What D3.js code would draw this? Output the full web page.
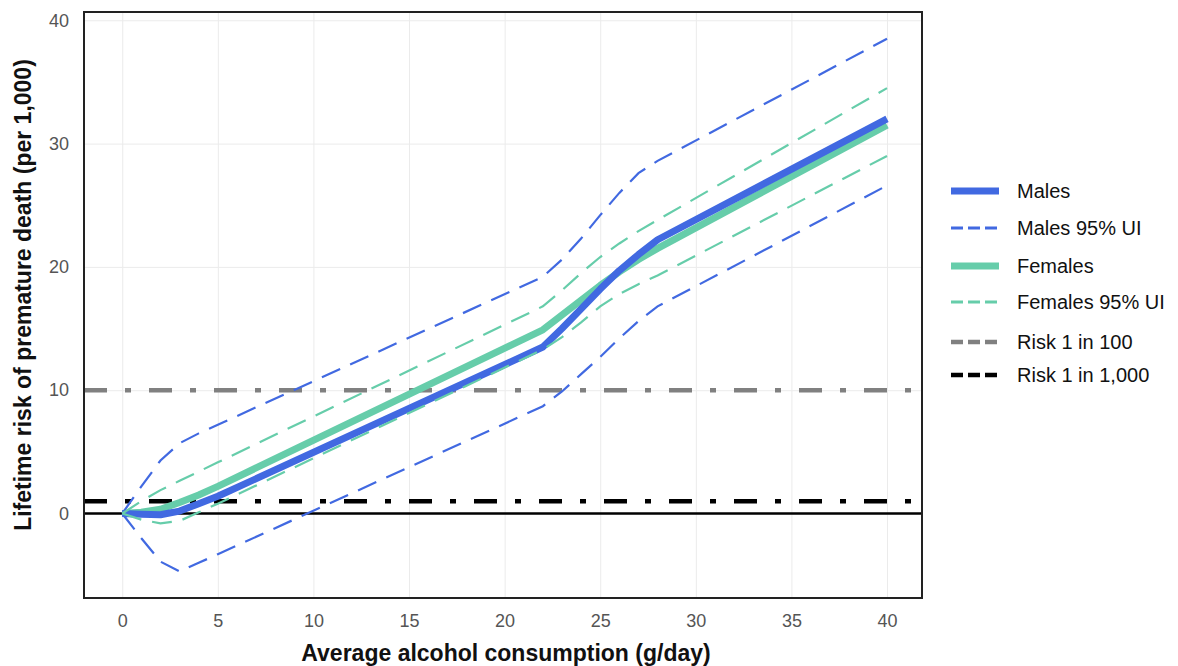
<!DOCTYPE html>
<html>
<head>
<meta charset="utf-8">
<script src="https://cdn.jsdelivr.net/npm/d3@7"></script>
<style>
  html, body { margin: 0; padding: 0; background: #fff; }
  svg { display: block; font-family: "Liberation Sans", Arial, sans-serif; }
</style>
</head>
<body>
<svg id="chart" width="1178" height="666"></svg>
<script>
// ---- Data ----
const consumption = [0, 1, 2, 3, 4, 5, 22, 23, 24, 25, 26, 27, 28, 40];
const malesRisk      = [0, -0.05, -0.1, 0.2, 0.8, 1.4, 13.5, 15.0, 16.6, 18.2, 19.7, 21.0, 22.2, 32.0];
const malesUpper     = [0, 2.2, 4.3, 5.7, 6.5, 7.2, 19.2, 20.6, 22.3, 24.2, 26.0, 27.6, 28.6, 38.5];
const malesLower     = [0, -2.0, -3.9, -4.7, -4.0, -3.3, 8.7, 9.9, 11.3, 12.7, 14.2, 15.6, 16.8, 26.6];
const femalesRisk    = [0, 0.1, 0.35, 0.9, 1.5, 2.2, 14.9, 16.1, 17.3, 18.5, 19.6, 20.6, 21.5, 31.5];
const femalesUpper   = [0, 1.0, 1.9, 2.65, 3.4, 4.15, 16.8, 18.1, 19.5, 20.8, 21.9, 22.9, 23.8, 34.5];
const femalesLower   = [0, -0.5, -0.8, -0.6, 0.1, 0.8, 13.3, 14.3, 15.5, 16.8, 17.8, 18.6, 19.3, 29.0];
const riskLines      = [10, 1];
const xTicks = [0, 5, 10, 15, 20, 25, 30, 35, 40];
const yTicks = [0, 10, 20, 30, 40];
const legendLabels = ["Males", "Males 95% UI", "Females", "Females 95% UI", "Risk 1 in 100", "Risk 1 in 1,000"];

// ---- Layout ----
const svg = d3.select("#chart");
const L = 84, R = 922, T = 12, B = 598;
const x = d3.scaleLinear().domain([-2, 41.83]).range([L, R]);
const y = d3.scaleLinear().domain([-6.85, 40.67]).range([B, T]);

const blue = "#4169E1", green = "#66CDAA", gray = "#808080";

// gridlines
const g = svg.append("g");
g.append("g").attr("transform", `translate(0,${B})`)
  .call(d3.axisBottom(x).tickValues(xTicks).tickSize(-(B - T)).tickFormat(""))
  .call(s => { s.select(".domain").remove(); s.selectAll("line").attr("stroke", "#ebebeb").attr("stroke-width", 1); });
g.append("g").attr("transform", `translate(${L},0)`)
  .call(d3.axisLeft(y).tickValues(yTicks).tickSize(-(R - L)).tickFormat(""))
  .call(s => { s.select(".domain").remove(); s.selectAll("line").attr("stroke", "#ebebeb").attr("stroke-width", 1); });

// tick labels
svg.append("g").attr("transform", `translate(0,${B})`)
  .call(d3.axisBottom(x).tickValues(xTicks).tickSize(0).tickPadding(16))
  .call(s => { s.select(".domain").remove(); s.selectAll("text").attr("font-size", 18).attr("fill", "#555").attr("font-family", "Liberation Sans, Arial, sans-serif"); });
svg.append("g").attr("transform", `translate(${L},0)`)
  .call(d3.axisLeft(y).tickValues(yTicks).tickSize(0).tickPadding(15))
  .call(s => { s.select(".domain").remove(); s.selectAll("text").attr("font-size", 18).attr("fill", "#555").attr("font-family", "Liberation Sans, Arial, sans-serif"); });

// zero line
svg.append("line").attr("x1", L).attr("x2", R).attr("y1", y(0)).attr("y2", y(0))
  .attr("stroke", "#000").attr("stroke-width", 2.5);

// risk lines
const riskColors = [gray, "#000"];
riskLines.forEach((v, i) => {
  svg.append("line").attr("x1", L).attr("x2", R).attr("y1", y(v)).attr("y2", y(v))
    .attr("stroke", riskColors[i]).attr("stroke-width", 4.5).attr("stroke-dasharray", "23,18,6,18");
});

// series lines
const line = d3.line().x(d => x(d[0])).y(d => y(d[1]));
const pts = arr => consumption.map((c, i) => [c, arr[i]]);
const plot = svg.append("g");
plot.append("path").attr("d", line(pts(femalesRisk))).attr("fill", "none").attr("stroke", green).attr("stroke-width", 7).attr("stroke-linejoin", "round");
plot.append("path").attr("d", line(pts(malesRisk))).attr("fill", "none").attr("stroke", blue).attr("stroke-width", 7).attr("stroke-linejoin", "round");
[malesUpper, malesLower].forEach(a => plot.append("path").attr("d", line(pts(a))).attr("fill", "none").attr("stroke", blue).attr("stroke-width", 2.2).attr("stroke-dasharray", "20,11"));
[femalesUpper, femalesLower].forEach(a => plot.append("path").attr("d", line(pts(a))).attr("fill", "none").attr("stroke", green).attr("stroke-width", 2.2).attr("stroke-dasharray", "20,11"));

// frame
svg.append("rect").attr("x", L).attr("y", T).attr("width", R - L).attr("height", B - T)
  .attr("fill", "none").attr("stroke", "#222").attr("stroke-width", 2);

// axis titles
svg.append("text").attr("x", 506).attr("y", 661).attr("text-anchor", "middle")
  .attr("font-size", 23).attr("font-weight", "bold").attr("fill", "#111")
  .text("Average alcohol consumption (g/day)");
svg.append("text").attr("transform", `translate(31,295) rotate(-90)`).attr("text-anchor", "middle")
  .attr("font-size", 23).attr("font-weight", "bold").attr("fill", "#111")
  .text("Lifetime risk of premature death (per 1,000)");

// legend
const legY = [191, 228, 266, 302, 342, 375];
const legStyles = [
  { c: blue, w: 7, d: null },
  { c: blue, w: 3, d: "12,5" },
  { c: green, w: 7, d: null },
  { c: green, w: 3, d: "12,5" },
  { c: gray, w: 4.5, d: "12,5" },
  { c: "#000", w: 4.5, d: "12,5" }
];
const leg = svg.append("g");
legendLabels.forEach((lab, i) => {
  const st = legStyles[i];
  leg.append("line").attr("x1", 951).attr("x2", 999).attr("y1", legY[i]).attr("y2", legY[i])
    .attr("stroke", st.c).attr("stroke-width", st.w).attr("stroke-dasharray", st.d);
  leg.append("text").attr("x", 1017).attr("y", legY[i]).attr("dy", "0.35em")
    .attr("font-size", 20).attr("fill", "#111").text(lab);
});
</script>
</body>
</html>
